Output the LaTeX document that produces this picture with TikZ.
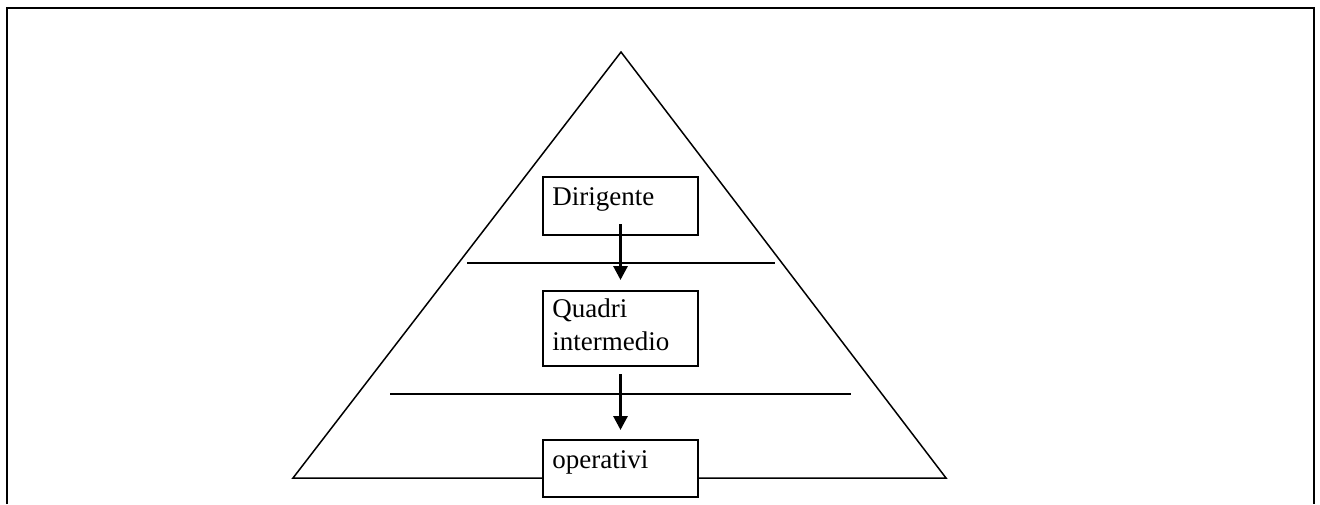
\documentclass[tikz,border=0pt]{standalone}
\usepackage{fontspec}
\setmainfont{Liberation Serif}
\usetikzlibrary{arrows.meta, positioning}

\begin{document}
\begin{tikzpicture}[x=0.5pt, y=-0.5pt, >={Triangle[length=7pt,width=7pt]},
    box/.style={draw, line width=1pt, fill=white, minimum width=77.5pt, inner sep=0pt},
    txt/.style={inner sep=0pt, font=\fontsize{13.5}{16.5}\selectfont, align=left},
    freccia/.style={->, line width=1.5pt}]
        \useasboundingbox (0,0) rectangle (1320,504);
        % cornice
        \draw[line width=1pt] (6.5,504) -- (6.5,7.5) -- (1313.5,7.5) -- (1313.5,504);

        % piramide
        \draw[line width=0.75pt] (293,478) -- (621,52) -- (946,478) -- cycle;
        \draw[line width=0.75pt] (467,263) -- (775,263);
        \draw[line width=0.75pt] (390,394) -- (851,394);

        % livelli
        \node[box, minimum height=29pt] (dir) at (620.5,206) {};
        \node[txt, below right=5.8pt and 5pt of dir.north west] (dirtxt) {Dirigente};
        \node[box, minimum height=37.5pt] (quad) at (620.5,328.5) {};
        \node[txt, below right=4.3pt and 5pt of quad.north west] (quadtxt) {Quadri\\intermedio};
        \node[box, minimum height=28.5pt] (oper) at (620.5,468.5) {};
        \node[txt, below right=5.8pt and 5pt of oper.north west] (opertxt) {operativi};

        \draw[freccia] ([yshift=6pt]dir.south) -- ([yshift=5pt]quad.north);
        \draw[freccia] ([yshift=-3.5pt]quad.south) -- ([yshift=4.5pt]oper.north);
    \end{tikzpicture}
\end{document}
